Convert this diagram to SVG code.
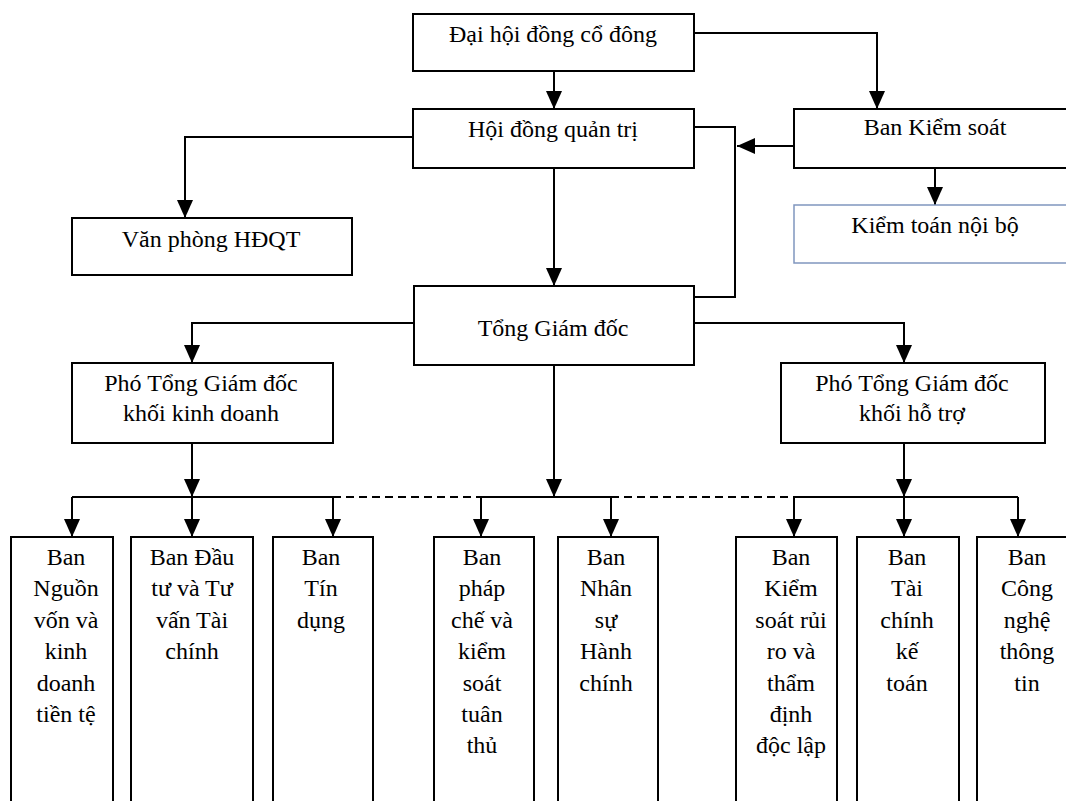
<svg xmlns="http://www.w3.org/2000/svg" width="1066" height="801" viewBox="0 0 1066 801">
<style>
.box{fill:#fff;stroke:#000;stroke-width:2}
.box2{fill:#fff;stroke:#8096be;stroke-width:1.5}
.t{font-family:"Liberation Serif","Times New Roman",serif;font-size:24px;fill:#000;text-anchor:middle}
.c{fill:none;stroke:#000;stroke-width:2}
.a{marker-end:url(#ah)}
.d{stroke-dasharray:8 5}
</style>
<defs>
<marker id="ah" markerUnits="userSpaceOnUse" markerWidth="18" markerHeight="16" viewBox="0 0 18 16" refX="18" refY="8" orient="auto">
<path d="M0,0 L18,8 L0,16 Z" fill="#000"/>
</marker>
</defs>
<rect width="1066" height="801" fill="#fff"/>
<g id="connectors">
<path class="c a" d="M554,71 V109"/>
<path class="c a" d="M694,33 H877 V109"/>
<path class="c a" d="M413,137 H185 V218"/>
<path class="c a" d="M554,168 V286"/>
<path class="c a" d="M794,146 H737"/>
<path class="c" d="M692,127 H735 V297 H694"/>
<path class="c a" d="M935,168 V205"/>
<path class="c a" d="M414,323 H192 V363"/>
<path class="c a" d="M694,323 H904 V363"/>
<path class="c a" d="M554,365 V497"/>
<path class="c a" d="M192,443 V497"/>
<path class="c a" d="M904,443 V497"/>
<path class="c" d="M72,497 H333"/>
<path class="c d" d="M333,497 H481"/>
<path class="c" d="M481,497 H611"/>
<path class="c d" d="M611,497 H794"/>
<path class="c" d="M794,497 H1018"/>
<path class="c a" d="M72,497 V537"/>
<path class="c a" d="M192,497 V537"/>
<path class="c a" d="M333,497 V537"/>
<path class="c a" d="M481,497 V537"/>
<path class="c a" d="M611,497 V537"/>
<path class="c a" d="M794,497 V537"/>
<path class="c a" d="M904,497 V537"/>
<path class="c a" d="M1018,497 V537"/>
</g>
<g id="dhdcd"><rect class="box" x="413" y="14" width="281" height="57"/><text class="t" x="553" y="42">Đại hội đồng cổ đông</text></g>
<g id="hdqt"><rect class="box" x="413" y="109" width="281" height="59"/><text class="t" x="553" y="137">Hội đồng quản trị</text></g>
<g id="bks"><rect class="box" x="794" y="109" width="280" height="59"/><text class="t" x="935" y="135">Ban Kiểm soát</text></g>
<g id="ktnb"><rect class="box2" x="794" y="205" width="280" height="58"/><text class="t" x="935" y="233">Kiểm toán nội bộ</text></g>
<g id="vphdqt"><rect class="box" x="72" y="218" width="280" height="57"/><text class="t" x="211" y="247">Văn phòng HĐQT</text></g>
<g id="tgd"><rect class="box" x="414" y="286" width="280" height="79"/><text class="t" x="553" y="336">Tổng Giám đốc</text></g>
<g id="ptgd-kd"><rect class="box" x="72" y="363" width="261" height="80"/><text class="t" x="201" y="391">Phó Tổng Giám đốc</text><text class="t" x="201" y="421">khối kinh doanh</text></g>
<g id="ptgd-ht"><rect class="box" x="781" y="363" width="264" height="80"/><text class="t" x="912" y="391">Phó Tổng Giám đốc</text><text class="t" x="912" y="421">khối hỗ trợ</text></g>
<g id="b1"><rect class="box" x="11" y="537" width="102" height="280"/><text class="t" x="66"><tspan x="66" y="565">Ban</tspan><tspan x="66" y="596">Nguồn</tspan><tspan x="66" y="628">vốn và</tspan><tspan x="66" y="659">kinh</tspan><tspan x="66" y="691">doanh</tspan><tspan x="66" y="722">tiền tệ</tspan></text></g>
<g id="b2"><rect class="box" x="131" y="537" width="122" height="280"/><text class="t" x="192"><tspan x="192" y="565">Ban Đầu</tspan><tspan x="192" y="596">tư và Tư</tspan><tspan x="192" y="628">vấn Tài</tspan><tspan x="192" y="659">chính</tspan></text></g>
<g id="b3"><rect class="box" x="273" y="537" width="100" height="280"/><text class="t" x="321"><tspan x="321" y="565">Ban</tspan><tspan x="321" y="596">Tín</tspan><tspan x="321" y="628">dụng</tspan></text></g>
<g id="b4"><rect class="box" x="434" y="537" width="100" height="280"/><text class="t" x="482"><tspan x="482" y="565">Ban</tspan><tspan x="482" y="596">pháp</tspan><tspan x="482" y="628">chế và</tspan><tspan x="482" y="659">kiểm</tspan><tspan x="482" y="691">soát</tspan><tspan x="482" y="722">tuân</tspan><tspan x="482" y="753">thủ</tspan></text></g>
<g id="b5"><rect class="box" x="558" y="537" width="100" height="280"/><text class="t" x="606"><tspan x="606" y="565">Ban</tspan><tspan x="606" y="596">Nhân</tspan><tspan x="606" y="628">sự</tspan><tspan x="606" y="659">Hành</tspan><tspan x="606" y="691">chính</tspan></text></g>
<g id="b6"><rect class="box" x="736" y="537" width="101" height="280"/><text class="t" x="791"><tspan x="791" y="565">Ban</tspan><tspan x="791" y="596">Kiểm</tspan><tspan x="791" y="628">soát rủi</tspan><tspan x="791" y="659">ro và</tspan><tspan x="791" y="691">thẩm</tspan><tspan x="791" y="722">định</tspan><tspan x="791" y="753">độc lập</tspan></text></g>
<g id="b7"><rect class="box" x="857" y="537" width="102" height="280"/><text class="t" x="907"><tspan x="907" y="565">Ban</tspan><tspan x="907" y="596">Tài</tspan><tspan x="907" y="628">chính</tspan><tspan x="907" y="659">kế</tspan><tspan x="907" y="691">toán</tspan></text></g>
<g id="b8"><rect class="box" x="977" y="537" width="100" height="280"/><text class="t" x="1027"><tspan x="1027" y="565">Ban</tspan><tspan x="1027" y="596">Công</tspan><tspan x="1027" y="628">nghệ</tspan><tspan x="1027" y="659">thông</tspan><tspan x="1027" y="691">tin</tspan></text></g>
</svg>
